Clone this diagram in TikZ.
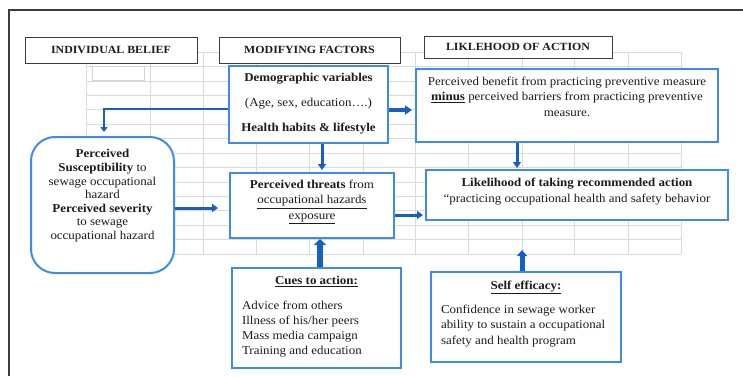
\documentclass[tikz,border=0pt]{standalone}
\usepackage{fontspec}
\setmainfont{Liberation Serif}[FakeStretch=1.08]
\usetikzlibrary{arrows.meta}

\definecolor{boxblue}{RGB}{59,140,235}
\definecolor{flowblue}{RGB}{22,96,196}
\definecolor{gridgray}{RGB}{218,218,218}
\definecolor{inkgray}{RGB}{28,28,28}
\definecolor{framegray}{RGB}{60,60,60}

% fixed-size text area, contents hung from the top
\newcommand{\inbox}[3]{\parbox[c][#1][t]{#2}{#3}}

\tikzset{
  header/.style={draw=framegray, line width=0.9pt, fill=white, inner sep=0pt,
    font=\fontsize{11}{13}\selectfont\bfseries, text=inkgray},
  bluebox/.style={draw=boxblue, line width=2pt, fill=white, inner sep=0pt, text=inkgray},
  flow/.style={draw=flowblue, line width=3pt, -{Triangle[length=6pt,width=8pt]}},
  bigflow/.style={draw=flowblue, line width=5.5pt, -{Triangle[length=6pt,width=12pt]}},
  gridline/.style={draw=gridgray, line width=0.6pt},
}

\begin{document}
\begin{tikzpicture}[x=1pt, y=-1pt]
\useasboundingbox (0,0) rectangle (743,376);
\fill[white] (0,0) rectangle (743,376);

% page frame
\draw[framegray, line width=1.2pt] (9,376) -- (9,10) -- (743,10);

% faint spreadsheet grid behind the chart
\foreach \gx in {86,150,203,256,309,363,415,468,522,574,628,681}
  \draw[gridline] (\gx,52) -- (\gx,254);
\foreach \k in {0,...,14}
  \draw[gridline] (86,52+14.43*\k) -- (681,52+14.43*\k);
\draw[gridgray!120, line width=0.6pt] (92,66) rectangle (144,80);

% column headers
\node[header, minimum width=172pt, minimum height=26pt] (hbelief) at (111,50) {INDIVIDUAL BELIEF};
\node[header, minimum width=181pt, minimum height=26pt] (hmod) at (309.5,50) {MODIFYING FACTORS};
\node[header, minimum width=188pt, minimum height=22pt] (hact) at (518,47) {LIKLEHOOD OF ACTION};

% modifying factors
\node[bluebox] (demo) at (308.5,104.5) {\inbox{77pt}{159pt}{\fontsize{12}{25}\selectfont\vspace*{7.6pt}\centering
  \textbf{Demographic variables}\\
  (Age, sex, education\dots.)\\
  \textbf{Health habits \& lifestyle}}};

\node[bluebox] (threat) at (312,205.5) {\inbox{65pt}{164pt}{\fontsize{12}{15.5}\selectfont\vspace*{6.8pt}\centering
  \textbf{Perceived threats} from\\
  \underline{occupational hazards}\\
  \underline{exposure}}};

\node[bluebox] (cues) at (316.5,318) {\inbox{100pt}{169pt}{\fontsize{12}{15}\selectfont\vspace*{7.8pt}
  {\centering\underline{\textbf{Cues to action:}}\par}
  \vspace{10pt}\raggedright\leftskip=10pt
  Advice from others\\
  Illness of his/her peers\\
  Mass media campaign\\
  Training and education}};

% individual belief
\node[bluebox, rounded corners=24pt] (belief) at (102.5,205) {\inbox{136pt}{143pt}{\fontsize{12}{13.6}\selectfont\vspace*{12.6pt}\centering
  \textbf{Perceived}\\
  \textbf{Susceptibility} to\\
  sewage occupational\\
  hazard\\
  \textbf{Perceived severity}\\
  to sewage\\
  occupational hazard}};

% likelihood of action
\node[bluebox] (benefit) at (567,105.5) {\inbox{73pt}{302pt}{\fontsize{12}{15.8}\selectfont\vspace*{7.6pt}\centering
  Perceived benefit from practicing preventive measure\\
  \underline{\textbf{minus}} perceived barriers from practicing preventive\\
  measure.}};

\node[bluebox] (likely) at (577,195) {\inbox{50pt}{302pt}{\fontsize{12}{16}\selectfont\vspace*{7.6pt}\centering
  \textbf{Likelihood of taking recommended action}\\
  \textquotedblleft practicing occupational health and safety behavior}};

\node[bluebox] (self) at (526,317) {\inbox{90pt}{190pt}{\fontsize{12}{15.5}\selectfont\vspace*{8.6pt}
  {\centering\underline{\textbf{Self efficacy:}}\par}
  \vspace{8.5pt}\raggedright\leftskip=10pt
  Confidence in sewage worker\\
  ability to sustain a occupational\\
  safety and health program}};

% connectors
\coordinate (dL) at ([yshift=-4.5pt]demo.west);
\coordinate (bT) at ([xshift=1.5pt]belief.north);
\draw[flow, line width=2.8pt, -{Triangle[length=5pt,width=7pt]}, shorten >=4pt] (dL) -| (bT);

\coordinate (dR) at ([yshift=-5.5pt]demo.east);
\draw[flow, line width=3.5pt, -{Triangle[length=7pt,width=9pt]}, shorten >=3pt] (dR) -- (dR -| benefit.west);

\coordinate (dB) at ([xshift=13.5pt]demo.south);
\draw[flow, shorten >=2pt] (dB) -- (dB |- threat.north);

\coordinate (bB) at ([xshift=-50pt]benefit.south);
\draw[flow, shorten >=1pt] (bB) -- (bB |- likely.north);

\coordinate (belR) at ([yshift=-3pt]belief.east);
\draw[flow, shorten >=11pt] (belR) -- (belR -| threat.west);

\coordinate (tR) at ([yshift=-9.5pt]threat.east);
\draw[flow, shorten >=2pt] (tR) -- (tR -| likely.west);

\coordinate (cT) at ([xshift=3.5pt]cues.north);
\draw[bigflow] (cT) -- (cT |- threat.south);

\coordinate (sT) at ([xshift=-4pt]self.north);
\draw[bigflow, line width=5pt, -{Triangle[length=6pt,width=10pt]}, shorten >=29pt] (sT) -- (sT |- likely.south);

\end{tikzpicture}
\end{document}
